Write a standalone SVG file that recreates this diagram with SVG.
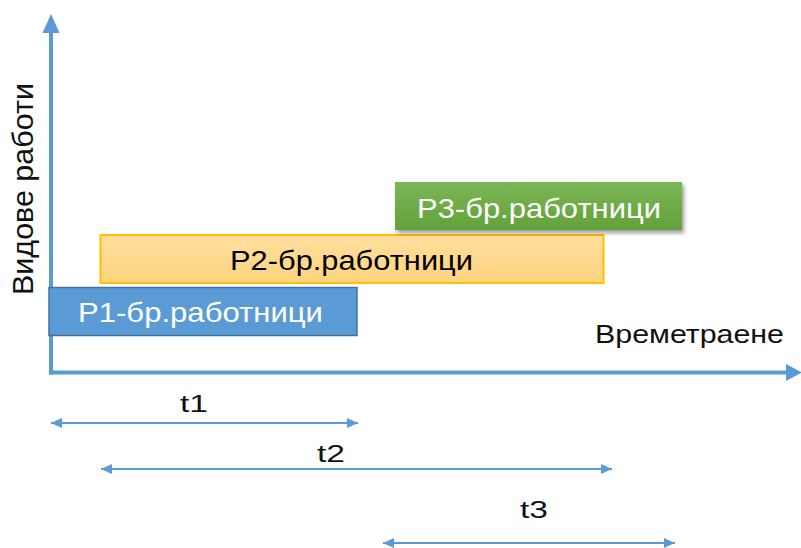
<svg xmlns="http://www.w3.org/2000/svg" width="801" height="548" viewBox="0 0 801 548">
<defs>
<style>
.lbl{font-family:"Liberation Sans",Arial,sans-serif;}
.box{font-size:28px;text-anchor:middle;}
.t{font-size:24px;fill:#111;}
.axis{stroke:#5B9BD5;stroke-width:4;fill:none;}
.dim{stroke:#5B9BD5;stroke-width:2;fill:none;marker-start:url(#ah);marker-end:url(#ah);}
</style>
<marker id="ah" viewBox="0 0 11 10" refX="11" refY="5" markerWidth="11" markerHeight="10" markerUnits="userSpaceOnUse" orient="auto-start-reverse">
<path d="M0,0 L11,5 L0,10 Z" fill="#5B9BD5"/>
</marker>
<linearGradient id="gOr" x1="0" y1="0" x2="0" y2="1">
<stop offset="0" stop-color="#FFDE9E"/>
<stop offset="1" stop-color="#FFD47E"/>
</linearGradient>
<linearGradient id="gGr" x1="0" y1="0" x2="0" y2="1">
<stop offset="0" stop-color="#7BB757"/>
<stop offset="1" stop-color="#62A13A"/>
</linearGradient>
<filter id="sh" x="-5%" y="-20%" width="115%" height="150%">
<feGaussianBlur in="SourceAlpha" stdDeviation="2"/>
<feOffset dx="2" dy="3" result="o"/>
<feComponentTransfer><feFuncA type="linear" slope="0.4"/></feComponentTransfer>
<feMerge><feMergeNode/><feMergeNode in="SourceGraphic"/></feMerge>
</filter>
</defs>
<rect width="801" height="548" fill="#fff"/>

<g id="axes">
<line class="axis" x1="51" y1="374.5" x2="51" y2="30"/>
<polygon points="51,14 42.5,33 59.5,33" fill="#5B9BD5"/>
<line class="axis" x1="49" y1="372.5" x2="787" y2="372.5"/>
<polygon points="802,372.5 786,364 786,381" fill="#5B9BD5"/>
<text class="lbl" font-size="29" fill="#111" text-anchor="middle" transform="translate(33,189) rotate(-90)" textLength="212" lengthAdjust="spacingAndGlyphs">Видове работи</text>
<text class="lbl" font-size="25" fill="#111" x="595" y="343" textLength="189" lengthAdjust="spacingAndGlyphs">Времетраене</text>
</g>

<g id="P2">
<rect x="100.5" y="235" width="503" height="48" fill="url(#gOr)" stroke="#FFC000" stroke-width="2"/>
<text class="lbl box" x="351.5" y="270" fill="#000" textLength="243" lengthAdjust="spacingAndGlyphs">P2-бр.работници</text>
</g>

<g id="P1">
<rect x="49" y="287.5" width="308" height="48" fill="#5B9BD5" stroke="#41719C" stroke-width="1.5"/>
<text class="lbl box" x="200.5" y="322" fill="#fff" textLength="245" lengthAdjust="spacingAndGlyphs">P1-бр.работници</text>
</g>

<g id="P3">
<rect x="395" y="182" width="287" height="48" fill="url(#gGr)" filter="url(#sh)"/>
<text class="lbl box" x="539" y="218" fill="#fff" textLength="244" lengthAdjust="spacingAndGlyphs">P3-бр.работници</text>
</g>

<g id="connectors">
<line class="dim" x1="51" y1="423" x2="358" y2="423"/>
<line class="dim" x1="101" y1="469" x2="612" y2="469"/>
<line class="dim" x1="383" y1="543" x2="675" y2="543"/>
</g>

<g id="dim-labels">
<text class="lbl t" x="180" y="412" textLength="28" lengthAdjust="spacingAndGlyphs">t1</text>
<text class="lbl t" x="317" y="462" textLength="28" lengthAdjust="spacingAndGlyphs">t2</text>
<text class="lbl t" x="520" y="518" textLength="28" lengthAdjust="spacingAndGlyphs">t3</text>
</g>
</svg>
